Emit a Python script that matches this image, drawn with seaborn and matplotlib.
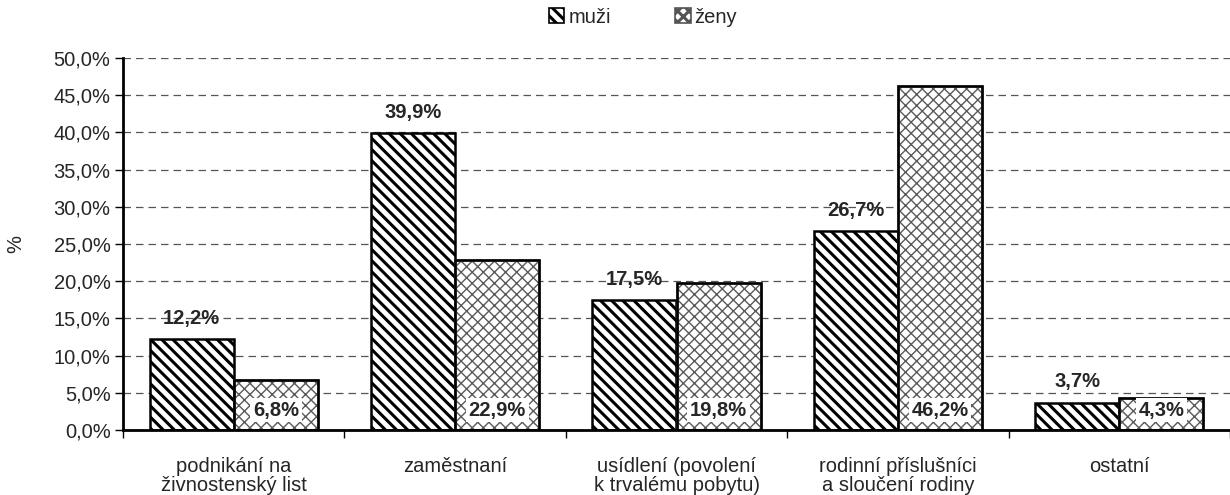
import numpy as np
import pandas as pd
import matplotlib
matplotlib.use("Agg")
import matplotlib.pyplot as plt
from matplotlib.patches import Patch, Rectangle
import seaborn as sns

categories = ["podnikání na\nživnostenský list", "zaměstnaní", "usídlení (povolení\nk trvalému pobytu)",
              "rodinní příslušníci\na sloučení rodiny", "ostatní"]
muzi = [12.2, 39.9, 17.5, 26.7, 3.7]
zeny = [6.8, 22.9, 19.8, 46.2, 4.3]
groups = ["muži", "ženy"]

df = pd.DataFrame({
    "kategorie": categories * 2,
    "pohlavi": [groups[0]] * len(muzi) + [groups[1]] * len(zeny),
    "podil": muzi + zeny,
})

sns.set_style("white")
plt.rcParams["font.family"] = ["Liberation Sans", "DejaVu Sans"]
plt.rcParams["hatch.linewidth"] = 2.2
FS = 14.5

fig = plt.figure(figsize=(12.3, 4.95), dpi=100)
ax = fig.add_axes([0.1, 0.131, 0.9, 0.752])

sns.barplot(data=df, x="kategorie", y="podil", hue="pohlavi", order=categories,
            hue_order=groups, palette=["white", "white"], width=0.76, gap=0,
            edgecolor="black", linewidth=1.8, legend=False, ax=ax)

hatches = {groups[0]: "\\\\\\", groups[1]: "xxx"}
for cont, g in zip(ax.containers, groups):
    for bar in cont:
        bar.set_hatch(hatches[g])
        if g == groups[1]:
            bar.set_edgecolor("#5a5a5a")
            if hasattr(bar, "set_hatch_linewidth"):
                bar.set_hatch_linewidth(1.0)
            # black outline on top of the grey-hatched bar
            ax.add_patch(Rectangle((bar.get_x(), bar.get_y()), bar.get_width(), bar.get_height(),
                                   fill=False, edgecolor="black", linewidth=1.8, zorder=bar.get_zorder() + 0.1))

# value labels
for bar, v in zip(ax.containers[0], muzi):
    ax.text(bar.get_x() + bar.get_width() / 2, v + 2.8, f"{v:.1f}%".replace(".", ","),
            ha="center", va="center", fontsize=FS, fontweight="bold")
for bar, v in zip(ax.containers[1], zeny):
    ax.text(bar.get_x() + bar.get_width() / 2, 2.7, f"{v:.1f}%".replace(".", ","),
            ha="center", va="center", fontsize=FS, fontweight="bold", zorder=5,
            bbox=dict(facecolor="white", edgecolor="none", pad=2))

ax.set_ylim(0, 50)
ax.set_xlim(-0.5, len(categories) - 0.5)
ax.set_yticks(np.arange(0, 50.1, 5))
ax.set_yticklabels([f"{t:.1f}%".replace(".", ",") for t in np.arange(0, 50.1, 5)], fontsize=FS)
ax.yaxis.grid(True, linestyle=(0, (6, 4)), color="#555555", linewidth=0.9)
ax.set_axisbelow(True)
ax.tick_params(axis="y", which="major", direction="out", length=6, width=1, color="black", left=True, pad=3)

# category labels on minor ticks, boundary ticks as major
ax.set_xticks(np.arange(-0.5, len(categories), 1.0))
ax.set_xticklabels([])
ax.set_xticks(np.arange(len(categories)), minor=True)
ax.set_xticklabels(categories, minor=True, fontsize=FS, linespacing=1.05)
ax.tick_params(axis="x", which="major", direction="out", length=6, width=1, color="black", bottom=True)
ax.tick_params(axis="x", which="minor", length=0, pad=19)

ax.set_xlabel("")
ax.set_ylabel("%", fontsize=FS, labelpad=20)

for s in ["top", "right"]:
    ax.spines[s].set_visible(False)
for s in ["left", "bottom"]:
    ax.spines[s].set_color("black")
    ax.spines[s].set_linewidth(2)

handles = [Patch(facecolor="white", edgecolor="black", hatch=hatches[groups[0]], linewidth=1.2),
           Patch(facecolor="white", edgecolor="#555555", hatch=hatches[groups[1]], linewidth=1.2)]
fig.legend(handles, groups, loc="center", bbox_to_anchor=(0.523, 0.965), ncol=2, frameon=False,
           fontsize=FS, handlelength=0.75, handleheight=0.75, handletextpad=0.2, columnspacing=3.2)

fig.savefig("out.png", dpi=100)
